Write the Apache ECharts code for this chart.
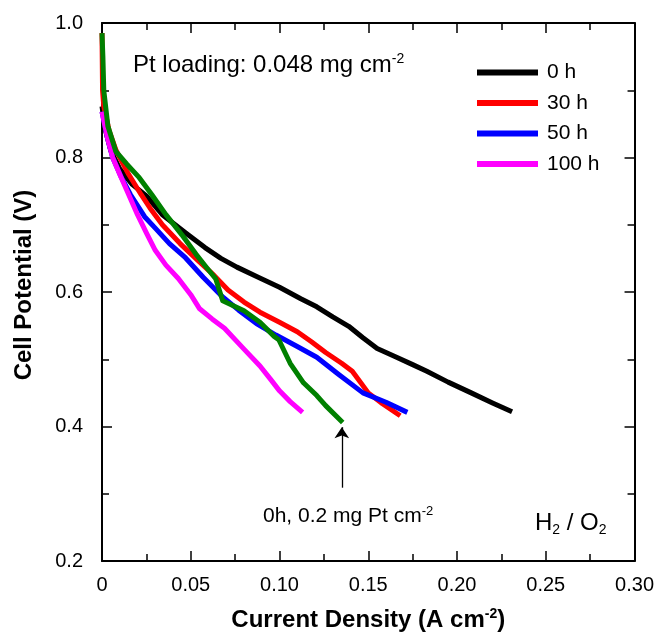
<!DOCTYPE html>
<html>
<head>
<meta charset="utf-8">
<script src="https://cdn.jsdelivr.net/npm/echarts@6/dist/echarts.min.js"></script>
<style>html,body{margin:0;padding:0;background:#fff}#c{width:657px;height:637px}</style>
</head>
<body>
<div id="c"></div>
<script>
// ---- data (x: current density A cm^-2, y: cell potential V) ----
const seriesNames = ['0 h', '30 h', '50 h', '100 h', '0h, 0.2 mg Pt cm-2'];
const xTicks = [0, 0.05, 0.10, 0.15, 0.20, 0.25, 0.30];
const yTicks = [0.2, 0.4, 0.6, 0.8, 1.0];

const h0 = [[0,0.876],[0.002,0.84],[0.005,0.81],[0.010,0.783],[0.017,0.760],[0.025,0.743],[0.034,0.715],
  [0.047,0.688],[0.058,0.666],[0.067,0.650],[0.076,0.637],[0.088,0.622],[0.100,0.607],[0.112,0.590],
  [0.121,0.578],[0.130,0.563],[0.139,0.549],[0.147,0.532],[0.155,0.516],[0.165,0.504],[0.175,0.492],
  [0.183,0.482],[0.195,0.466],[0.208,0.450],[0.220,0.435],[0.231,0.422]];
const h30 = [[0,0.985],[0.0003,0.90],[0.001,0.876],[0.004,0.84],[0.008,0.81],[0.015,0.775],[0.022,0.745],
  [0.027,0.725],[0.034,0.700],[0.044,0.672],[0.054,0.647],[0.063,0.625],[0.071,0.603],[0.080,0.585],
  [0.089,0.570],[0.100,0.555],[0.110,0.541],[0.118,0.526],[0.126,0.510],[0.135,0.494],[0.141,0.482],
  [0.150,0.450],[0.158,0.434],[0.168,0.416]];
const h50 = [[0,0.868],[0.003,0.83],[0.006,0.80],[0.011,0.770],[0.016,0.745],[0.024,0.712],[0.030,0.695],
  [0.038,0.672],[0.047,0.651],[0.057,0.622],[0.067,0.595],[0.077,0.573],[0.087,0.553],[0.098,0.536],
  [0.110,0.519],[0.121,0.503],[0.133,0.478],[0.147,0.450],[0.160,0.436],[0.172,0.421]];
const h100 = [[0,0.868],[0.003,0.83],[0.006,0.80],[0.010,0.775],[0.015,0.745],[0.020,0.715],[0.025,0.688],
  [0.030,0.662],[0.036,0.640],[0.043,0.620],[0.050,0.596],[0.055,0.575],[0.062,0.560],[0.069,0.546],
  [0.080,0.515],[0.089,0.490],[0.095,0.470],[0.100,0.453],[0.106,0.437],[0.113,0.421]];
const h0hi = [[0,0.985],[0.0005,0.95],[0.001,0.90],[0.0033,0.847],[0.0078,0.809],[0.014,0.790],[0.021,0.770],
  [0.028,0.745],[0.036,0.715],[0.045,0.685],[0.053,0.656],[0.059,0.636],[0.064,0.620],[0.068,0.587],
  [0.080,0.572],[0.089,0.555],[0.097,0.534],[0.0996,0.529],[0.106,0.494],[0.1135,0.465],[0.121,0.446],
  [0.126,0.431],[0.1356,0.406]];
const arrowFrom = [0.1351, 0.309];
const arrowTo = [0.1351, 0.399];

const colors = ['#000000', '#ff0000', '#0000ff', '#ff00ff', '#008000'];
const allData = [h0, h30, h50, h100, h0hi];

const tickFont = "'Liberation Sans Narrow','Arial Narrow','Liberation Sans',Arial,sans-serif";
const font = "'Liberation Sans',Arial,sans-serif";

const chart = echarts.init(document.getElementById('c'), null, {renderer: 'canvas'});

function mkX(pos, labels) {
  return {
    type: 'value', position: pos, min: 0, max: 0.3, interval: 0.05,
    axisLine: {show: true, onZero: false, lineStyle: {color: '#000', width: 2}},
    axisTick: {show: true, inside: true, length: 10, lineStyle: {color: '#000', width: 1.5}},
    minorTick: {show: true, splitNumber: 2, length: 7, lineStyle: {color: '#000', width: 1.5}},
    splitLine: {show: false},
    axisLabel: {show: labels, margin: 14, fontSize: 20, fontFamily: tickFont, color: '#000',
      formatter: v => (Math.abs(v) < 1e-9 ? '0' : v.toFixed(2))},
    name: labels ? '{a|Current Density (A cm}{s|-2}{a|)}' : '',
    nameLocation: 'middle', nameGap: 46,
    nameTextStyle: {rich: {
      a: {fontSize: 24, fontWeight: 'bold', fontFamily: font, color: '#000', lineHeight: 26},
      s: {fontSize: 14, fontWeight: 'bold', fontFamily: font, color: '#000', verticalAlign: 'top', lineHeight: 14}
    }}
  };
}
function mkY(pos, labels) {
  return {
    type: 'value', position: pos, min: 0.2, max: 1.0, interval: 0.2,
    axisLine: {show: true, onZero: false, lineStyle: {color: '#000', width: 2}},
    axisTick: {show: true, inside: true, length: 10, lineStyle: {color: '#000', width: 1.5}},
    minorTick: {show: true, splitNumber: 2, length: 7, lineStyle: {color: '#000', width: 1.5}},
    splitLine: {show: false},
    axisLabel: {show: labels, margin: 19, fontSize: 20, fontFamily: tickFont, color: '#000',
      formatter: v => v.toFixed(1)},
    name: labels ? 'Cell Potential (V)' : '',
    nameLocation: 'middle', nameGap: 66, nameRotate: 90,
    nameTextStyle: {fontSize: 24, fontWeight: 'bold', fontFamily: font, color: '#000', padding: [0, 0, 0, 14]}
  };
}

const series = allData.map((d, i) => ({
  name: seriesNames[i], type: 'line', data: d, showSymbol: false, symbol: 'none',
  lineStyle: {color: colors[i], width: 5, join: 'round'}, itemStyle: {color: colors[i]},
  z: 2 + i, animation: false
}));
series[4].markLine = {
  silent: true, symbol: ['none', 'arrow'], symbolSize: 11,
  lineStyle: {color: '#000', width: 1.3, type: 'solid'}, label: {show: false},
  data: [[{coord: arrowFrom}, {coord: arrowTo}]]
};

chart.setOption({
  animation: false,
  backgroundColor: '#fff',
  grid: {left: 102, right: 13, top: 23, bottom: 71, containLabel: false},
  xAxis: [mkX('bottom', true), mkX('top', false)],
  yAxis: [mkY('left', true), mkY('right', false)],
  legend: {
    data: seriesNames.slice(0, 4), orient: 'vertical', left: 472, top: 57,
    itemWidth: 61, itemHeight: 6, itemGap: 9.5, icon: 'rect',
    textStyle: {fontSize: 21, fontFamily: font, color: '#000', padding: [0, 0, 0, 4]}
  },
  graphic: [
    {type: 'text', left: 133, top: 52, style: {
      text: '{a|Pt loading: 0.048 mg cm}{s|-2}',
      rich: {a: {fontSize: 24, fontFamily: font, fill: '#000', lineHeight: 26},
             s: {fontSize: 14, fontFamily: font, fill: '#000', verticalAlign: 'top', lineHeight: 14}}}},
    {type: 'text', left: 263, top: 505, style: {
      text: '{a|0h, 0.2 mg Pt cm}{s|-2}',
      rich: {a: {fontSize: 21, fontFamily: font, fill: '#000', lineHeight: 23},
             s: {fontSize: 13, fontFamily: font, fill: '#000', verticalAlign: 'top', lineHeight: 13}}}},
    {type: 'text', left: 535, top: 511, style: {
      text: '{a|H}{b|2}{a| / O}{b|2}',
      rich: {a: {fontSize: 24, fontFamily: font, fill: '#000', lineHeight: 28},
             b: {fontSize: 14, fontFamily: font, fill: '#000', verticalAlign: 'bottom', lineHeight: 14}}}}
  ],
  series: series
});
</script>
</body>
</html>
